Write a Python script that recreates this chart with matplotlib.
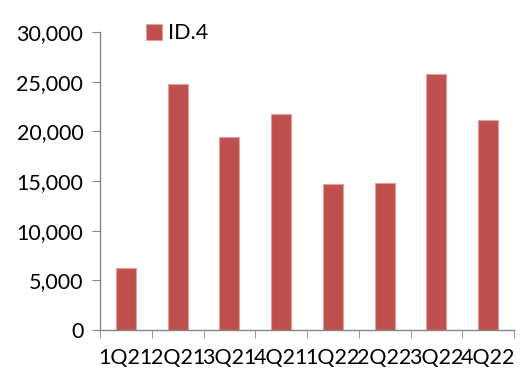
import matplotlib
matplotlib.use("Agg")
import matplotlib.pyplot as plt
import numpy as np
from matplotlib.ticker import FuncFormatter, FixedLocator

categories = ["1Q21", "2Q21", "3Q21", "4Q21", "1Q22", "2Q22", "3Q22", "4Q22"]
values = [6240, 24740, 19430, 21700, 14670, 14800, 25800, 21180]
series_name = "ID.4"

plt.rcParams['font.family'] = ['Lato', 'DejaVu Sans']

fig = plt.figure(figsize=(5.22, 3.69), dpi=100)
ax = fig.add_axes([100/522, 1-330/369, 414/522, 298/369])

x = np.arange(len(categories))
ax.bar(x, values, width=0.39, color="#C0504D", edgecolor="#E0A09E", linewidth=0.8,
       label=series_name, zorder=2)

ax.set_xlim(-0.5, len(categories) - 0.5)
ax.set_ylim(0, 30000)
ax.set_yticks(np.arange(0, 30001, 5000))
ax.yaxis.set_major_formatter(FuncFormatter(lambda v, p: f"{int(v):,}"))
ax.set_xticks(x)
ax.set_xticklabels(categories)
ax.xaxis.set_minor_locator(FixedLocator(np.arange(-0.5, len(categories), 1.0)))

for s in ["top", "right"]:
    ax.spines[s].set_visible(False)
for s in ["left", "bottom"]:
    ax.spines[s].set_color("#868686")
    ax.spines[s].set_linewidth(1.0)

ax.tick_params(axis="y", which="major", length=6, color="#868686", labelsize=15.5, pad=6, labelcolor="black")
ax.tick_params(axis="x", which="major", length=0, labelsize=15.5, pad=13, labelcolor="black")
ax.tick_params(axis="x", which="minor", length=6, color="#868686")

leg = ax.legend(loc="center left", bbox_to_anchor=(0.09, 0.995), frameon=False,
                fontsize=15.5, handlelength=0.75, handleheight=0.75, handletextpad=0.3,
                borderaxespad=0)

fig.savefig("out.png", dpi=100)
